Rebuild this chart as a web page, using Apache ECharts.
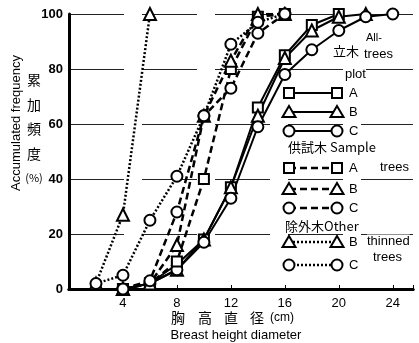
<!DOCTYPE html>
<html><head><meta charset="utf-8">
<script src="https://cdn.jsdelivr.net/npm/echarts@6/dist/echarts.min.js"></script>
<style>html,body{margin:0;padding:0;background:#fff}#c{width:419px;height:343px}</style>
</head><body><div id="c"></div>
<script>
// diameters (cm)
var diameters = [2, 4, 6, 8, 10, 12, 14, 16, 18, 20, 22, 24];
// All-trees plot (solid)
var allA = [null, 0, 2, 9, 18, 37, 66, 85, 96, 100, null, null];
var allB = [null, 0, 2, 7, 18, 37, 63, 84, 94, 99, 100, null];
var allC = [null, 0, 2, 7, 17, 33, 59, 78, 87, 94, 99, 100];
// Sample trees (dashed)
var sampleA = [null, 0, 2, 10, 40, 80, 99, 100, null, null, null, null];
var sampleB = [null, 0, 2, 16, 63, 83, 100, 100, null, null, null, null];
var sampleC = [null, 0, 3, 28, 63, 73, 93, 100, null, null, null, null];
// Other thinned trees (dotted)
var otherB = [2, 27, 100, null, null, null, null, null, null, null, null, null];
var otherC = [2, 5, 25, 41, 63, 89, 97, 100, null, null, null, null];
var xTicks = [4, 8, 12, 16, 20, 24];
var yTicks = [0, 20, 40, 60, 80, 100];

function pairs(v) {
  var out = [];
  for (var i = 0; i < diameters.length; i++) if (v[i] !== null) out.push([diameters[i], v[i]]);
  return out;
}
var SOLID = 'solid', DASH = [7, 4], DOT = [2, 2];
function mk(name, vals, sym, dash) {
  return {
    name: name, type: 'line', data: pairs(vals), symbol: sym,
    symbolSize: sym === 'rect' ? 10 : (sym === 'triangle' ? 12 : 11),
    lineStyle: { color: '#000', width: dash === SOLID ? 2 : 2.5, type: dash },
    itemStyle: { color: '#fff', borderColor: '#000', borderWidth: 2 },
    animation: false, z: 3
  };
}
var series = [
  mk('All A', allA, 'rect', SOLID), mk('All B', allB, 'triangle', SOLID), mk('All C', allC, 'circle', SOLID),
  mk('Sample A', sampleA, 'rect', DASH), mk('Sample B', sampleB, 'triangle', DASH), mk('Sample C', sampleC, 'circle', DASH),
  mk('Other B', otherB, 'triangle', DOT), mk('Other C', otherC, 'circle', DOT)
];

var FONT = 'Liberation Sans';
var CJK = 'Noto Sans CJK JP';
var g = [];
function txt(x, y, s, size, font, align) {
  g.push({ type: 'text', left: x, top: y, z: 10, style: { text: s, fontSize: size || 13, fontFamily: font || FONT, fill: '#000', textAlign: align || 'left', textVerticalAlign: 'middle' } });
}
function sym(type, cx, cy) {
  var st = { fill: '#fff', stroke: '#000', lineWidth: 2 };
  if (type === 'rect') g.push({ type: 'rect', shape: { x: cx - 5, y: cy - 5, width: 10, height: 10 }, style: st, z: 11 });
  else if (type === 'circle') g.push({ type: 'circle', shape: { cx: cx, cy: cy, r: 5.5 }, style: st, z: 11 });
  else g.push({ type: 'polygon', shape: { points: [[cx, cy - 6], [cx + 6.5, cy + 5], [cx - 6.5, cy + 5]] }, style: st, z: 11 });
}
function row(y, type, dash, label) {
  g.push({ type: 'line', shape: { x1: 289, y1: y, x2: 337, y2: y }, style: { stroke: '#000', lineWidth: dash === SOLID ? 2 : 2.5, lineDash: dash === SOLID ? null : dash }, z: 10 });
  sym(type, 289, y); sym(type, 337, y);
  g.push({ type: 'text', x: 349, y: y, z: 11, style: { text: label, fontSize: 13, fontFamily: FONT, fill: '#000', textVerticalAlign: 'middle' } });
}
function t(x, y, s, size, font) {
  g.push({ type: 'text', x: x, y: y, z: 11, style: { text: s, fontSize: size || 13, fontFamily: font || FONT, fill: '#000', textVerticalAlign: 'middle', backgroundColor: '#fff' } });
}
// legend block
t(333, 51, '立木', 13, CJK);
t(366, 38, 'All-', 11);
t(364, 54, 'trees', 13);
t(345, 74, 'plot', 13);
row(93, 'rect', SOLID, 'A');
row(112, 'triangle', SOLID, 'B');
row(131, 'circle', SOLID, 'C');
t(288, 147, '供試木 Sample', 13, CJK);
t(380, 167, 'trees', 13);
row(168, 'rect', DASH, 'A');
row(189, 'triangle', DASH, 'B');
row(208, 'circle', DASH, 'C');
t(285, 226, '除外木Other', 13, CJK);
row(242, 'triangle', DOT, 'B');
t(367, 241, 'thinned', 13);
t(373, 257, 'trees', 13);
row(265, 'circle', DOT, 'C');
// axis titles
g.push({ type: 'text', x: 16, y: 123, rotation: Math.PI / 2, z: 11, style: { text: 'Accumulated frequency', fontSize: 13, fontFamily: FONT, fill: '#000', textAlign: 'center', textVerticalAlign: 'middle' } });
var ych = ['累', '加', '頻', '度', '(%)'], yy = [80, 105, 129, 154, 178];
for (var i = 0; i < ych.length; i++) {
  g.push({ type: 'text', x: 34, y: yy[i], z: 11, style: { text: ych[i], fontSize: i === 4 ? 11 : 14, fontFamily: CJK, fill: '#000', textAlign: 'center', textVerticalAlign: 'middle' } });
}
var xch = ['胸', '高', '直', '径'], xx = [178, 205, 231, 257];
for (var j = 0; j < xch.length; j++) {
  g.push({ type: 'text', x: xx[j], y: 318, z: 11, style: { text: xch[j], fontSize: 14, fontFamily: CJK, fill: '#000', textAlign: 'center', textVerticalAlign: 'middle' } });
}
g.push({ type: 'text', x: 270, y: 318, z: 11, style: { text: '(cm)', fontSize: 12, fontFamily: FONT, fill: '#000', textVerticalAlign: 'middle' } });
g.push({ type: 'text', x: 236, y: 335, z: 11, style: { text: 'Breast height diameter', fontSize: 13, fontFamily: FONT, fill: '#000', textAlign: 'center', textVerticalAlign: 'middle' } });

var chart = echarts.init(document.getElementById('c'), null, { renderer: 'canvas' });
chart.setOption({
  animation: false,
  backgroundColor: '#fff',
  grid: { left: 69, right: 6, top: 14, bottom: 54 },
  xAxis: [{
    type: 'value', min: 0, max: 25.5, interval: 4,
    axisLine: { show: true, onZero: false, lineStyle: { color: '#000', width: 3 } },
    axisTick: { show: true, inside: true, length: 4, lineStyle: { color: '#000', width: 1 } },
    axisLabel: { margin: 8, color: '#000', fontSize: 13, fontFamily: FONT, showMinLabel: false,
      formatter: function (v) { return xTicks.indexOf(v) >= 0 ? String(v) : ''; } },
    splitLine: { show: false }
  }, {
    type: 'value', position: 'top', min: 0, max: 25.5, interval: 4,
    axisLine: { show: true, lineStyle: { color: '#000', width: 3 } },
    axisTick: { show: false }, axisLabel: { show: false }, splitLine: { show: false }
  }],
  yAxis: [{
    type: 'value', min: 0, max: 100, interval: 20,
    axisLine: { show: true, lineStyle: { color: '#000', width: 3 } },
    axisTick: { show: false },
    axisLabel: { margin: 6, color: '#000', fontSize: 13, fontWeight: 'bold', fontFamily: FONT,
      formatter: function (v) { return yTicks.indexOf(v) >= 0 ? String(v) : ''; } },
    splitLine: { show: true, lineStyle: { color: '#222', width: 1, type: [55, 18] } }
  }, {
    type: 'value', position: 'right', min: 0, max: 100, interval: 20,
    axisLine: { show: true, lineStyle: { color: '#000', width: 1 } },
    axisTick: { show: false }, axisLabel: { show: false }, splitLine: { show: false }
  }],
  series: series,
  graphic: g
});
</script></body></html>
